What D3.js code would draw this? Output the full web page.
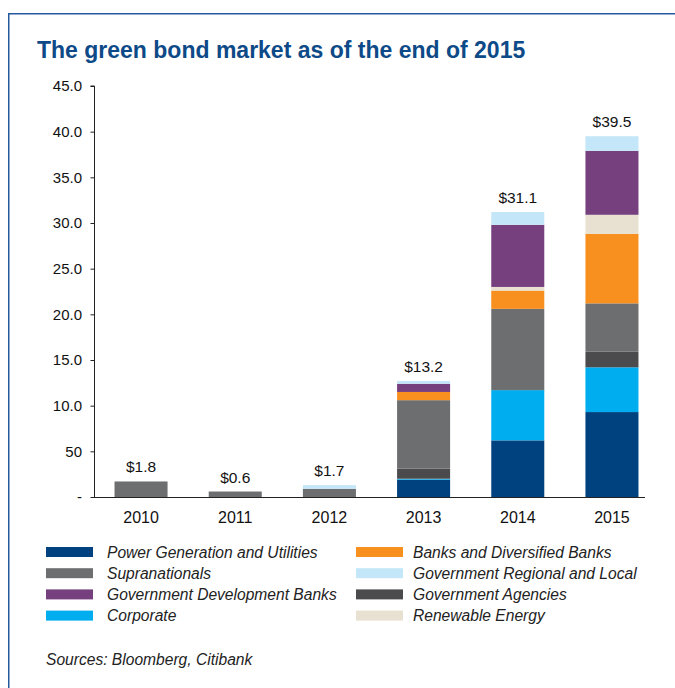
<!DOCTYPE html>
<html lang="en">
<head>
  <meta charset="UTF-8">
  <title>The green bond market as of the end of 2015</title>
  <style>
    body { margin: 0; background: #fff; }
    svg { display: block; font-family: "Liberation Sans", Arial, sans-serif; }
  </style>
  <script src="https://d3js.org/d3.v7.min.js"></script>
</head>
<body>
<div id="chart"></div>
<script>
  // Data (USD bn)
  var years = ["2010", "2011", "2012", "2013", "2014", "2015"];
  var totalLabels = ["$1.8", "$0.6", "$1.7", "$13.2", "$31.1", "$39.5"];

  // series in stacking order, bottom to top
  var seriesNames = [
    "Power Generation and Utilities",
    "Corporate",
    "Government Agencies",
    "Supranationals",
    "Banks and Diversified Banks",
    "Renewable Energy",
    "Government Development Banks",
    "Government Regional and Local"
  ];
  var seriesColors = ["#00427f", "#00aeef", "#4b4b4d", "#6d6e70", "#f7901e", "#e8e1d1", "#763f7e", "#c3e6f8"];

  var powerGen     = [0,   0,   0,   1.9, 6.2, 9.3];
  var corporate    = [0,   0,   0,   0.1, 5.5, 4.9];
  var govAgencies  = [0,   0,   0,   1.1, 0.1, 1.7];
  var supranat     = [1.7, 0.6, 0.9, 7.5, 8.8, 5.3];
  var banks        = [0,   0,   0,   0.9, 2.0, 7.6];
  var renewable    = [0,   0,   0,   0,   0.4, 2.1];
  var govDevBanks  = [0,   0,   0,   0.9, 6.8, 7.0];
  var govRegional  = [0,   0,   0.4, 0.3, 1.4, 1.6];
  var seriesValues = [powerGen, corporate, govAgencies, supranat, banks, renewable, govDevBanks, govRegional];

  var yTicks = [0, 5, 10, 15, 20, 25, 30, 35, 40, 45];
  var yTickLabels = ["-", "50", "10.0", "15.0", "20.0", "25.0", "30.0", "35.0", "40.0", "45.0"];

  // legend layout: two columns, four rows
  var legendOrder = [
    "Power Generation and Utilities", "Supranationals", "Government Development Banks", "Corporate",
    "Banks and Diversified Banks", "Government Regional and Local", "Government Agencies", "Renewable Energy"
  ];

  var W = 675, H = 688;
  var svg = d3.select("#chart").append("svg").attr("width", W).attr("height", H);

  // frame
  svg.append("path")
    .attr("d", "M8.75," + H + " L8.75,13.75 L" + W + ",13.75")
    .attr("fill", "none")
    .attr("stroke", "#245a9b")
    .attr("stroke-width", 1.5);

  // title
  svg.append("text")
    .attr("x", 37).attr("y", 58)
    .attr("fill", "#0d4a87")
    .attr("font-size", 23)
    .attr("font-weight", "bold")
    .text("The green bond market as of the end of 2015");

  var x = d3.scaleBand().domain(years).range([94, 659]).paddingInner(0.437).paddingOuter(0.218);
  var y = d3.scaleLinear().domain([0, 45]).range([497, 86]);

  var table = years.map(function(yr, i) {
    var row = { year: yr };
    seriesNames.forEach(function(s, j) { row[s] = seriesValues[j][i]; });
    return row;
  });
  var stacked = d3.stack().keys(seriesNames)(table);
  var color = d3.scaleOrdinal().domain(seriesNames).range(seriesColors);

  svg.append("g").selectAll("g")
    .data(stacked).join("g")
    .attr("fill", function(d) { return color(d.key); })
    .selectAll("rect")
    .data(function(d) { return d; }).join("rect")
    .attr("x", function(d) { return x(d.data.year); })
    .attr("width", x.bandwidth())
    .attr("y", function(d) { return y(d[1]); })
    .attr("height", function(d) { return y(d[0]) - y(d[1]); });

  // total labels
  var totals = table.map(function(r) { return d3.sum(seriesNames, function(s) { return r[s]; }); });
  svg.append("g").selectAll("text")
    .data(years).join("text")
    .attr("x", function(d) { return x(d) + x.bandwidth() / 2; })
    .attr("y", function(d, i) { return y(totals[i]) - 9; })
    .attr("text-anchor", "middle")
    .attr("font-size", 15.5)
    .attr("fill", "#111")
    .text(function(d, i) { return totalLabels[i]; });

  // y axis
  var yAxis = d3.axisLeft(y)
    .tickValues(yTicks)
    .tickSize(4)
    .tickFormat(function(d, i) { return yTickLabels[i]; });
  var gy = svg.append("g").attr("transform", "translate(94.5,0)").call(yAxis);
  gy.select(".domain").attr("stroke", "#222").attr("d", "M-4," + y(45) + "H0V" + y(0));
  gy.selectAll(".tick line").attr("stroke", "#222");
  gy.selectAll(".tick text")
    .attr("x", -12.5)
    .attr("font-size", 15)
    .attr("font-family", "Liberation Sans, Arial, sans-serif")
    .attr("fill", "#111");

  // x axis
  var xAxis = d3.axisBottom(x).tickSize(0).tickPadding(14);
  var gx = svg.append("g").attr("transform", "translate(0,497.5)").call(xAxis);
  gx.select(".domain").attr("stroke", "#222").attr("d", "M94,0H645");
  gx.selectAll(".tick text")
    .attr("font-size", 16)
    .attr("font-family", "Liberation Sans, Arial, sans-serif")
    .attr("fill", "#111");

  // legend
  var legend = svg.append("g").selectAll("g")
    .data(legendOrder).join("g")
    .attr("transform", function(d, i) {
      var col = Math.floor(i / 4), row = i % 4;
      return "translate(" + (col === 0 ? 46 : 356) + "," + (547 + row * 21.2) + ")";
    });
  legend.append("rect")
    .attr("width", 47).attr("height", 10)
    .attr("fill", function(d) { return color(d); });
  legend.append("text")
    .attr("x", function(d, i) { return i < 4 ? 61 : 57; })
    .attr("y", 10.5)
    .attr("font-size", 15.6)
    .attr("font-style", "italic")
    .attr("fill", "#222")
    .text(function(d) { return d; });

  // source note
  svg.append("text")
    .attr("x", 46).attr("y", 665)
    .attr("font-size", 15.6)
    .attr("font-style", "italic")
    .attr("fill", "#222")
    .text("Sources: Bloomberg, Citibank");
</script>
</body>
</html>
